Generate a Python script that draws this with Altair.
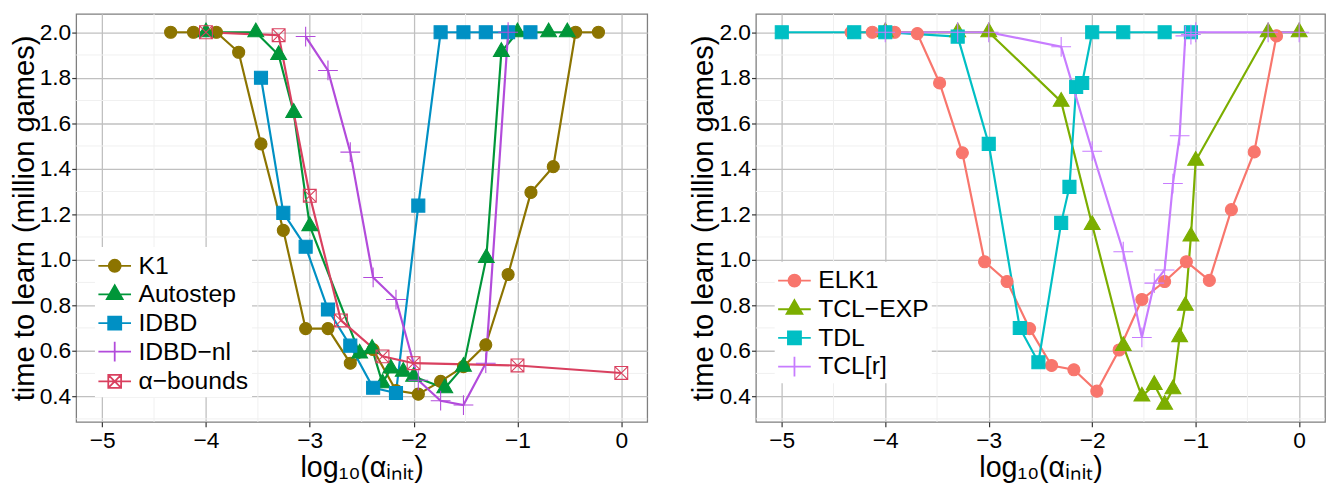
import altair as alt
import pandas as pd

# ---------------- data ----------------
LEFT_SERIES = ["K1", "Autostep", "IDBD", "IDBD\u2212nl", "\u03b1\u2212bounds"]
LEFT_COLORS = ["#8C7400", "#009639", "#0090C4", "#B24BDB", "#D9405F"]

k1_x = [-4.34, -4.12, -3.90, -3.685, -3.47, -3.255, -3.04, -2.825, -2.61, -2.39,
        -2.17, -1.955, -1.74, -1.52, -1.305, -1.09, -0.87, -0.655, -0.44, -0.22]
k1_y = [2.0, 2.0, 2.0, 1.912, 1.509, 1.129, 0.697, 0.697, 0.545, 0.605,
        0.425, 0.409, 0.465, 0.53, 0.626, 0.935, 1.296, 1.409, 2.0, 2.0]

auto_x = [-4.0, -3.52, -3.3, -3.155, -3.0, -2.52, -2.4, -2.3, -2.22, -2.1, -2.0,
          -1.7, -1.52, -1.3, -1.155, -1.0, -0.7, -0.52]
auto_y = [2.0, 2.0, 1.90, 1.646, 1.148, 0.588, 0.609, 0.457, 0.522, 0.508, 0.486,
          0.435, 0.53, 1.008, 1.914, 2.0, 2.0, 2.0]

idbd_x = [-3.47, -3.255, -3.04, -2.825, -2.61, -2.39, -2.17, -1.955, -1.74, -1.52,
          -1.305, -1.09, -0.875]
idbd_y = [1.80, 1.206, 1.057, 0.781, 0.622, 0.437, 0.414, 1.238, 2.0, 2.0,
          2.0, 2.0, 2.0]

idbdnl_x = [-3.04, -2.825, -2.61, -2.39, -2.17, -1.955, -1.74, -1.52, -1.305, -1.09]
idbdnl_y = [1.981, 1.832, 1.473, 0.922, 0.825, 0.47, 0.38, 0.361, 0.545, 2.0]

abound_x = [-4.0, -3.3, -3.0, -2.7, -2.3, -2.0, -1.0, 0.0]
abound_y = [2.0, 1.987, 1.281, 0.733, 0.575, 0.545, 0.535, 0.502]

RIGHT_SERIES = ["ELK1", "TCL\u2212EXP", "TDL", "TCL[r]"]
RIGHT_COLORS = ["#F8766D", "#7CAE00", "#00BFC4", "#C77CFF"]

elk1_x = [-4.33, -4.125, -3.91, -3.69, -3.475, -3.255, -3.04, -2.823, -2.605, -2.393,
          -2.177, -1.955, -1.74, -1.52, -1.30, -1.09, -0.868, -0.655, -0.434, -0.219]
elk1_y = [2.0, 2.0, 2.0, 1.994, 1.777, 1.47, 0.991, 0.904, 0.697, 0.535,
          0.516, 0.422, 0.603, 0.825, 0.904, 0.991, 0.909, 1.22, 1.474, 1.984]

tclexp_x = [-4.0, -3.3, -3.0, -2.3, -2.0, -1.7, -1.52, -1.4, -1.3, -1.22, -1.155,
            -1.1, -1.046, -1.0, -0.3, 0.0]
tclexp_y = [2.0, 2.0, 2.0, 1.695, 1.153, 0.621, 0.399, 0.45, 0.363, 0.431, 0.66,
            0.798, 1.102, 1.435, 2.0, 2.0]

tdl_x = [-5.0, -4.3, -4.0, -3.3, -3.0, -2.7, -2.52, -2.3, -2.22, -2.155, -2.097,
         -2.0, -1.7, -1.3, -1.046]
tdl_y = [2.0, 2.0, 2.0, 1.981, 1.509, 0.70, 0.549, 1.162, 1.32, 1.76, 1.777,
         2.0, 2.0, 2.0, 2.0]

tclr_x = [-4.0, -3.3, -3.0, -2.3, -2.0, -1.7, -1.52, -1.4, -1.3, -1.22, -1.155,
          -1.1, -1.046, -1.0, -0.3, 0.0]
tclr_y = [2.0, 2.0, 2.0, 1.936, 1.477, 1.035, 0.658, 0.897, 0.955, 1.335, 1.545,
          1.984, 1.99, 2.0, 2.0, 2.0]

X_TICKS = [-5, -4, -3, -2, -1, 0]
Y_TICKS = [0.4, 0.6, 0.8, 1.0, 1.2, 1.4, 1.6, 1.8, 2.0]
X_MINOR = [-4.5, -3.5, -2.5, -1.5, -0.5]
Y_MINOR = [0.3, 0.5, 0.7, 0.9, 1.1, 1.3, 1.5, 1.7, 1.9]

FONT = "Liberation Sans"


def frame(names, xs, ys):
    rows = []
    for n, xx, yy in zip(names, xs, ys):
        for a, b in zip(xx, yy):
            rows.append({"series": n, "x": a, "y": b})
    return pd.DataFrame(rows)


# ---------------- marker paths ----------------
def f(v):
    return f"{v:.4f}"


def circ(r, u):
    r = r / u
    return f"M{f(r)},0A{f(r)},{f(r)},0,1,1,{f(-r)},0A{f(r)},{f(r)},0,1,1,{f(r)},0Z"


def sq(h, u):
    h = h / u
    return f"M{f(-h)},{f(-h)}H{f(h)}V{f(h)}H{f(-h)}Z"


def tri(w, u):
    hh = w * 0.866
    top = -hh * 2 / 3 / u
    base = hh / 3 / u
    half = w / 2 / u
    return f"M0,{f(top)}L{f(half)},{f(base)}L{f(-half)},{f(base)}Z"


def plus(h, u):
    h = h / u
    return f"M{f(-h)},0H{f(h)}M0,{f(-h)}V{f(h)}"


def xbox(h, u):
    h = h / u
    return (f"M{f(-h)},{f(-h)}H{f(h)}V{f(h)}H{f(-h)}Z"
            f"M{f(-h)},{f(-h)}L{f(h)},{f(h)}M{f(h)},{f(-h)}L{f(-h)},{f(h)}")


PT_SIZE = 400          # data symbols: 10 px per path unit
U = 10.0
LEG_SIZE = 882         # legend symbols: ~29.7 px nominal width / row height
UL = 29.7 / 2

SHAPES_PX = {
    "circle": lambda u: circ(6.1, u),
    "square": lambda u: sq(6.6, u),
    "tri": lambda u: tri(16.0, u),
    "plus": lambda u: plus(10.0, u),
    "xbox": lambda u: xbox(6.5, u),
}

LEFT_KINDS = ["circle", "tri", "square", "plus", "xbox"]
RIGHT_KINDS = ["circle", "tri", "square", "plus"]


def legend_expr(series, kinds):
    line = f"M{f(-16.5 / UL)},0H{f(16.5 / UL)}"
    expr = "'circle'"
    for s, k in reversed(list(zip(series, kinds))):
        expr = f"datum.value === '{s}' ? '{line}{SHAPES_PX[k](UL)}' : ({expr})"
    return expr


def panel(series, colors, kinds, xs, ys, leg_y, width):
    df = frame(series, xs, ys)
    fills = [c if k in ("circle", "tri", "square") else "transparent"
             for c, k in zip(colors, kinds)]
    shapes = [SHAPES_PX[k](U) for k in kinds]

    xsc = alt.Scale(domain=[-5.25, 0.25], nice=False, zero=False)
    ysc = alt.Scale(domain=[0.287, 2.081], nice=False, zero=False)

    xaxis = alt.Axis(values=X_TICKS, title="log\u2081\u2080(\u03b1\u1d62\u2099\u1d62\u209c)")
    yaxis = alt.Axis(values=Y_TICKS, format=".1f", title="time to learn (million games)")

    minor_x = alt.Chart(pd.DataFrame({"v": X_MINOR})).mark_rule(
        color="#F0F0F0", strokeWidth=1).encode(x=alt.X("v:Q", scale=xsc, axis=xaxis))
    minor_y = alt.Chart(pd.DataFrame({"v": Y_MINOR})).mark_rule(
        color="#F0F0F0", strokeWidth=1).encode(y=alt.Y("v:Q", scale=ysc, axis=yaxis))

    legend = alt.Legend(
        title=None, orient="none", legendX=19, legendY=leg_y,
        fillColor="white", padding=3, symbolOffset=1,
        labelFontSize=25, labelFont=FONT,
        labelColor="black", rowPadding=0, symbolSize=LEG_SIZE, labelOffset=8,
        symbolStrokeWidth=1.8, labelLimit=0,
        symbolType={"expr": legend_expr(series, kinds)},
    )

    stroke_scale = alt.Scale(domain=series, range=colors)
    lines = alt.Chart(df).mark_line(strokeWidth=2.2).encode(
        x=alt.X("x:Q", scale=xsc, axis=xaxis),
        y=alt.Y("y:Q", scale=ysc, axis=yaxis),
        stroke=alt.Stroke("series:N", scale=stroke_scale, sort=series, legend=legend),
        order=alt.Order("x:Q"),
    )

    # shape scale gets an extra unused domain entry so it is not merged into the legend
    points = alt.Chart(df).mark_point(size=PT_SIZE, strokeWidth=1.1, opacity=1,
                                      filled=True).encode(
        x=alt.X("x:Q", scale=xsc, axis=xaxis),
        y=alt.Y("y:Q", scale=ysc, axis=yaxis),
        stroke=alt.Stroke("series:N", scale=stroke_scale, sort=series, legend=legend),
        fill=alt.Fill("series:N", scale=alt.Scale(domain=series, range=fills),
                      sort=series, legend=legend),
        shape=alt.Shape("series:N",
                        scale=alt.Scale(domain=series + ["_"], range=shapes + ["circle"]),
                        legend=None),
    )
    return alt.layer(minor_x, minor_y, lines, points).properties(width=width, height=413)


left = panel(LEFT_SERIES, LEFT_COLORS, LEFT_KINDS,
             [k1_x, auto_x, idbd_x, idbdnl_x, abound_x],
             [k1_y, auto_y, idbd_y, idbdnl_y, abound_y], 236, 578)
right = panel(RIGHT_SERIES, RIGHT_COLORS, RIGHT_KINDS,
              [elk1_x, tclexp_x, tdl_x, tclr_x],
              [elk1_y, tclexp_y, tdl_y, tclr_y], 251, 576)

chart = alt.hconcat(left, right, spacing=39).resolve_scale(
    x="independent", y="independent", stroke="independent", fill="independent",
    shape="independent"
).properties(
    padding={"left": 0, "top": 1, "right": 0, "bottom": 0}
).configure_view(
    stroke="#7F7F7F", strokeWidth=1.3
).configure_axis(
    grid=True, gridColor="#C0C0C0", gridWidth=1.3,
    domain=False, tickColor="#333333", tickWidth=1.2,
    labelFont=FONT, labelFontSize=23, labelColor="black",
    titleFont=FONT, titleFontWeight="normal", titleColor="black",
).configure_axisY(
    labelPadding=1, titlePadding=0, titleFontSize=29.5, tickSize=4.5,
).configure_axisX(
    labelPadding=3, titlePadding=1, titleFontSize=29, tickSize=5,
)

chart.save("out.html", embed_options={"renderer": "svg", "actions": False})
